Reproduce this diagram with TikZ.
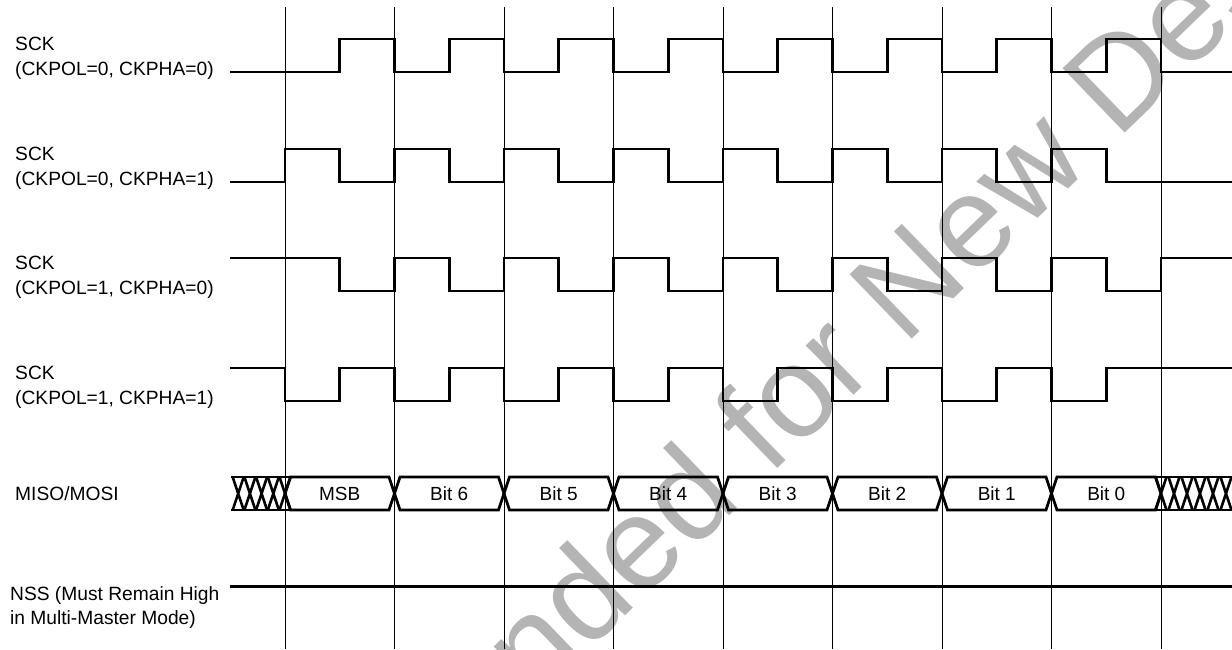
\documentclass[tikz,border=0pt]{standalone}
\usepackage{fontspec}
\setmainfont{Liberation Sans}
\definecolor{wmgray}{RGB}{180,180,180}
\begin{document}
\begin{tikzpicture}[x=1pt,y=-1pt,
  sig/.style={line width=2.8pt, line join=miter, line cap=butt},
  hatch/.style={line width=2.6pt, line cap=butt},
  gridline/.style={line width=0.8pt, black},
  lbl/.style={anchor=base west, inner sep=0pt, font=\fontsize{19.2}{24}\selectfont},
  bitlbl/.style={anchor=base, inner sep=0pt, font=\fontsize{19}{24}\selectfont},
  wm/.style={anchor=base west, inner sep=0pt, text=wmgray, font=\fontsize{130}{130}\selectfont}]
\useasboundingbox (0,0) rectangle (1232,649);
% watermark
\begin{scope}
  \clip (0,0) rectangle (1232,649);
  \node[wm, rotate=44] (wm) at (-62,1280) {Not Recommended for New Designs};
\end{scope}
% grid lines
\foreach \i in {0,...,8} {
  \draw[gridline] ({285+109.5*\i},7) coordinate (gt\i) -- ({285+109.5*\i},649) coordinate (gb\i);
}
% SCK (CKPOL=0, CKPHA=0)
\draw[sig] (230,72) foreach \i in {0,...,7} {
  -- ({285+109.5*\i+54.75},72) -- ({285+109.5*\i+54.75},39)
  -- ({285+109.5*(\i+1)},39) -- ({285+109.5*(\i+1)},72) } -- (1232,72);
% SCK (CKPOL=0, CKPHA=1)
\draw[sig] (230,182) foreach \i in {0,...,7} {
  -- ({285+109.5*\i},182) -- ({285+109.5*\i},149)
  -- ({285+109.5*\i+54.75},149) -- ({285+109.5*\i+54.75},182) } -- (1232,182);
% SCK (CKPOL=1, CKPHA=0)
\draw[sig] (230,258) foreach \i in {0,...,7} {
  -- ({285+109.5*\i+54.75},258) -- ({285+109.5*\i+54.75},291)
  -- ({285+109.5*(\i+1)},291) -- ({285+109.5*(\i+1)},258) } -- (1232,258);
% SCK (CKPOL=1, CKPHA=1)
\draw[sig] (230,368) foreach \i in {0,...,7} {
  -- ({285+109.5*\i},368) -- ({285+109.5*\i},401)
  -- ({285+109.5*\i+54.75},401) -- ({285+109.5*\i+54.75},368) } -- (1232,368);
% MISO/MOSI bus
\def\bt{477}\def\bb{510}\def\bm{493.5}\def\bh{5.5}
\foreach \i in {0,...,7} {
  \draw[sig] ({285+109.5*\i},\bm) -- ({285+109.5*\i+\bh},\bt) -- ({285+109.5*(\i+1)-\bh},\bt)
    -- ({285+109.5*(\i+1)},\bm) -- ({285+109.5*(\i+1)-\bh},\bb) -- ({285+109.5*\i+\bh},\bb) -- cycle;
}
\foreach \t [count=\i from 0] in {MSB,Bit 6,Bit 5,Bit 4,Bit 3,Bit 2,Bit 1,Bit 0} {
  \node[bitlbl] (b\i) at ({285+109.5*\i+54.75},500.5) {\t};
}
% left hatch
\draw[sig] (231,\bt) -- (291,\bt) (231,\bb) -- (291,\bb);
\foreach \k in {0,...,4} {
  \draw[hatch] ({285-11.7*\k-\bh},\bt) -- ({285-11.7*\k+\bh},\bb)
               ({285-11.7*\k-\bh},\bb) -- ({285-11.7*\k+\bh},\bt);
}
% right hatch
\draw[sig] (1155,\bt) -- (1232,\bt) (1155,\bb) -- (1232,\bb);
\foreach \k in {0,...,6} {
  \draw[hatch] ({1161+13*\k-\bh},\bt) -- ({1161+13*\k+\bh},\bb)
               ({1161+13*\k-\bh},\bb) -- ({1161+13*\k+\bh},\bt);
}
% NSS
\draw[sig] (230,586.7) coordinate (nssL) -- (1232,586.7) coordinate (nssR);
% labels
\node[lbl] (l1a) at (15,50) {SCK};
\node[lbl] (l1b) at (15,75) {(CKPOL=0, CKPHA=0)};
\node[lbl] (l2a) at (15,160) {SCK};
\node[lbl] (l2b) at (15,185) {(CKPOL=0, CKPHA=1)};
\node[lbl] (l3a) at (15,269.5) {SCK};
\node[lbl] (l3b) at (15,294.5) {(CKPOL=1, CKPHA=0)};
\node[lbl] (l4a) at (15,379.5) {SCK};
\node[lbl] (l4b) at (15,404.5) {(CKPOL=1, CKPHA=1)};
\node[lbl] (l5) at (15,500) {MISO/MOSI};
\node[lbl] (l6a) at (10,600) {NSS (Must Remain High};
\node[lbl] (l6b) at (10,624) {in Multi-Master Mode)};
\end{tikzpicture}
\end{document}
